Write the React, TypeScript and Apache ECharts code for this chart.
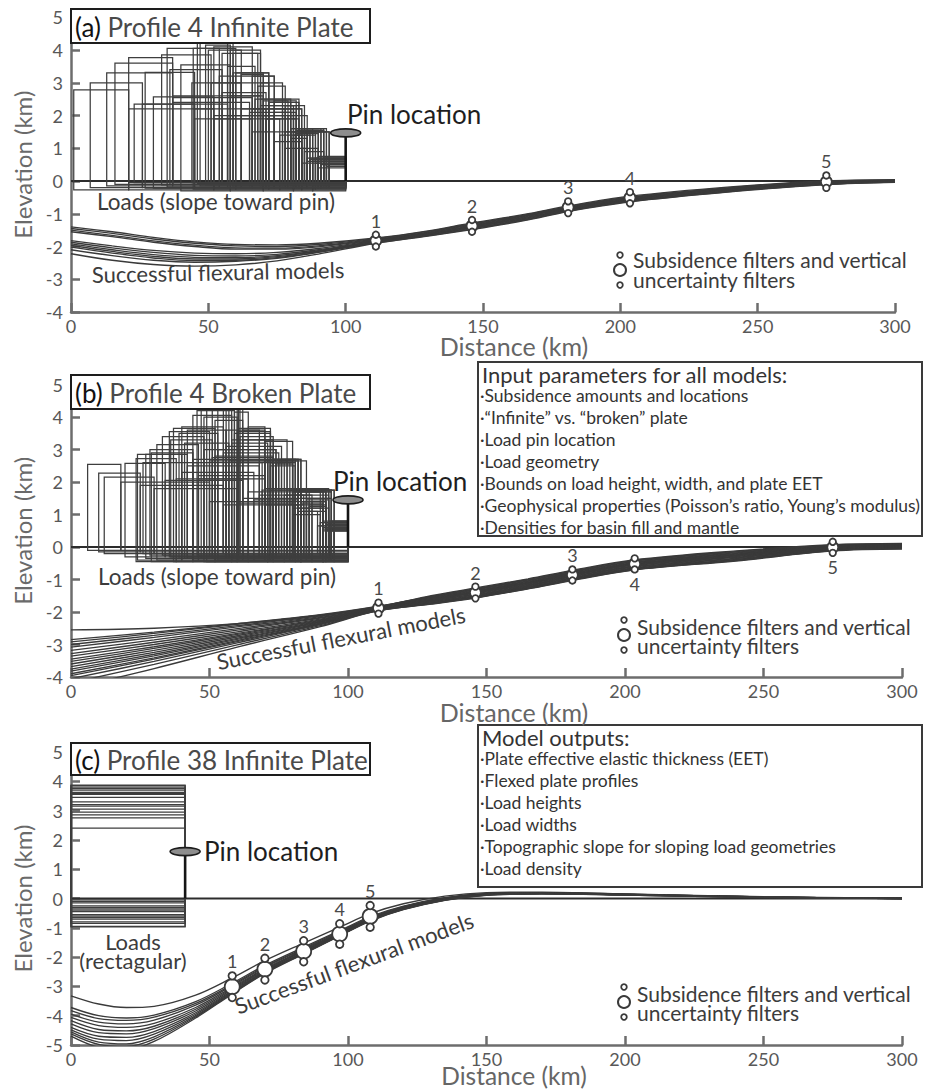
import React, { useEffect, useRef } from "react";
import * as echarts from "echarts";

const FONT = "Lato, 'Open Sans', 'Noto Sans', sans-serif";
const INK = "#3a3a3a";
const AXIS_GRAY = "#6d6d6d";
const LABEL_GRAY = "#585858";

const X_MIN = 0;
const X_MAX = 300;
const filterIds = ["1", "2", "3", "4", "5"];

// ---------- (a) Profile 4, infinite plate ----------
const curveXA = [0, 15, 30, 45, 60, 75, 90, 111, 130, 146, 165, 181, 203, 240, 275, 300];
const curvesA = [
  [-1.40, -1.55, -1.72, -1.86, -1.94, -1.95, -1.90, -1.74, -1.52, -1.28, -1.02, -0.76, -0.47, -0.18, 0.00, 0.04],
  [-1.45, -1.60, -1.77, -1.90, -1.98, -2.00, -1.94, -1.76, -1.54, -1.30, -1.04, -0.78, -0.49, -0.20, -0.01, 0.03],
  [-1.50, -1.66, -1.83, -1.96, -2.04, -2.05, -1.98, -1.78, -1.56, -1.32, -1.06, -0.80, -0.51, -0.22, -0.03, 0.02],
  [-1.55, -1.70, -1.87, -2.00, -2.08, -2.08, -2.01, -1.80, -1.58, -1.34, -1.08, -0.82, -0.53, -0.24, -0.04, 0.01],
  [-1.82, -1.98, -2.12, -2.20, -2.22, -2.18, -2.06, -1.81, -1.59, -1.36, -1.10, -0.84, -0.55, -0.25, -0.05, 0.00],
  [-1.87, -2.04, -2.18, -2.27, -2.29, -2.24, -2.10, -1.83, -1.61, -1.38, -1.12, -0.86, -0.57, -0.27, -0.06, -0.01],
  [-1.92, -2.10, -2.25, -2.33, -2.34, -2.28, -2.13, -1.84, -1.62, -1.40, -1.14, -0.87, -0.58, -0.28, -0.07, -0.01],
  [-1.97, -2.15, -2.30, -2.38, -2.38, -2.31, -2.15, -1.86, -1.64, -1.42, -1.15, -0.89, -0.60, -0.30, -0.08, -0.02],
  [-2.02, -2.20, -2.35, -2.43, -2.42, -2.34, -2.17, -1.87, -1.65, -1.44, -1.17, -0.90, -0.61, -0.31, -0.09, -0.03],
  [-2.10, -2.28, -2.42, -2.48, -2.45, -2.36, -2.18, -1.89, -1.67, -1.46, -1.19, -0.92, -0.63, -0.32, -0.10, -0.03],
  [-2.22, -2.42, -2.55, -2.60, -2.56, -2.44, -2.23, -1.90, -1.68, -1.48, -1.21, -0.93, -0.64, -0.33, -0.11, -0.04],
];
const filterXA = [111, 146, 181, 203.5, 275];
const filterYA = [-1.82, -1.37, -0.80, -0.51, -0.02];
const filterErrA = [0.18, 0.18, 0.18, 0.17, 0.19];
const labelBelowA = [false, false, false, false, false];
const pinA = [100, 1.47];
// each load: [base, x0, h0, x1, h1, ...] — steps run to the next x, the last one to the pin
const loadsA = [
  [-0.27, 1, 2.78, 21, 2.2, 52, 1.9, 76, 1.4, 84, 0.55],
  [-0.2, 7, 3.0, 26, 2.35, 57, 2.0, 78, 1.5, 86, 0.6],
  [-0.15, 13, 3.3, 37, 2.4, 65, 2.1, 80, 1.6, 88, 0.65],
  [-0.1, 16, 3.6, 37, 2.55, 66, 2.2, 81, 1.5, 89, 0.7],
  [-0.05, 21, 3.77, 37, 2.6, 69, 2.3, 82, 1.45, 90, 0.75],
  [-0.22, 27, 3.32, 45, 2.2, 71, 1.9, 83, 1.6, 91, 0.5],
  [-0.12, 33, 3.85, 51, 3.0, 72, 2.4, 80, 1.5, 87, 0.7],
  [-0.18, 35, 4.05, 54, 3.2, 74, 2.1, 82, 1.55, 90, 0.6],
  [-0.08, 46, 4.5, 57, 3.5, 67, 2.5, 83, 1.5, 91, 0.65],
  [-0.25, 44.5, 4.05, 60, 3.3, 72, 2.3, 81, 1.4, 89, 0.55],
  [-0.15, 47, 4.6, 59, 3.3, 70, 2.2, 84, 1.55, 92, 0.6],
  [-0.1, 50, 4.0, 62, 3.3, 72, 2.4, 83, 1.5, 93, 0.7],
  [-0.2, 52, 4.1, 66, 3.2, 74, 2.45, 82, 1.6, 93, 0.45],
  [-0.05, 55, 3.9, 68, 2.9, 78, 2.3, 85, 1.5, 94, 0.6],
  [-0.12, 49, 4.15, 58, 4.0, 69, 2.5, 80, 1.6, 92, 0.5],
  [-0.22, 30, 2.57, 52, 2.0, 74, 1.2, 84, 1.0, 90, 0.4],
  [-0.05, 23, 2.35, 45, 1.9, 66, 1.5, 80, 1.3, 86, 0.7],
  [-0.3, 40, 3.55, 58, 2.6, 70, 2.0, 81, 1.5, 88, 0.6],
  [-0.15, 59, 3.9, 69, 3.0, 77, 2.2, 84, 1.55, 92, 0.5],
  [-0.1, 36, 3.4, 55, 2.7, 71, 1.9, 82, 1.4, 87, 0.65],
  [-0.2, 62, 3.25, 70, 2.45, 79, 2.0, 86, 1.5, 94, 0.55],
  [-0.05, 44, 3.0, 62, 2.2, 78, 1.0, 85, 0.9, 92, 0.7],
];

// ---------- (b) Profile 4, broken plate ----------
const curveXB = [0, 30, 60, 90, 111, 130, 146, 165, 181, 203, 240, 275, 300];
const curvesB = [
  [-2.55, -2.50, -2.36, -2.10, -1.84, -1.50, -1.26, -0.98, -0.72, -0.40, -0.12, 0.07, 0.11],
  [-2.85, -2.62, -2.36, -2.08, -1.82, -1.52, -1.28, -1.00, -0.74, -0.42, -0.14, 0.06, 0.10],
  [-2.92, -2.66, -2.38, -2.10, -1.83, -1.53, -1.30, -1.02, -0.76, -0.44, -0.16, 0.05, 0.09],
  [-3.00, -2.72, -2.42, -2.12, -1.85, -1.55, -1.32, -1.04, -0.78, -0.46, -0.18, 0.03, 0.08],
  [-3.08, -2.78, -2.46, -2.14, -1.86, -1.56, -1.34, -1.06, -0.80, -0.48, -0.20, 0.02, 0.07],
  [-3.18, -2.86, -2.51, -2.17, -1.87, -1.58, -1.36, -1.08, -0.82, -0.50, -0.22, 0.01, 0.06],
  [-3.28, -2.93, -2.56, -2.19, -1.88, -1.59, -1.38, -1.10, -0.84, -0.52, -0.24, 0.00, 0.05],
  [-3.36, -3.00, -2.61, -2.22, -1.89, -1.61, -1.39, -1.11, -0.85, -0.53, -0.25, -0.01, 0.04],
  [-3.45, -3.07, -2.66, -2.24, -1.90, -1.62, -1.40, -1.12, -0.86, -0.54, -0.26, -0.02, 0.03],
  [-3.52, -3.12, -2.69, -2.26, -1.90, -1.63, -1.42, -1.14, -0.88, -0.56, -0.28, -0.03, 0.02],
  [-3.60, -3.18, -2.73, -2.28, -1.91, -1.65, -1.44, -1.16, -0.90, -0.58, -0.30, -0.04, 0.02],
  [-3.68, -3.24, -2.77, -2.30, -1.92, -1.66, -1.46, -1.18, -0.92, -0.60, -0.32, -0.05, 0.01],
  [-3.76, -3.30, -2.81, -2.32, -1.92, -1.68, -1.48, -1.20, -0.94, -0.62, -0.34, -0.06, 0.00],
  [-3.82, -3.35, -2.84, -2.34, -1.93, -1.69, -1.50, -1.22, -0.96, -0.64, -0.36, -0.07, -0.01],
  [-3.90, -3.41, -2.88, -2.36, -1.94, -1.71, -1.52, -1.24, -0.98, -0.66, -0.38, -0.08, -0.02],
  [-3.96, -3.45, -2.91, -2.37, -1.94, -1.72, -1.53, -1.25, -0.99, -0.67, -0.39, -0.09, -0.03],
  [-4.05, -3.52, -2.95, -2.39, -1.95, -1.74, -1.55, -1.27, -1.01, -0.69, -0.41, -0.10, -0.04],
  [-4.18, -3.61, -3.01, -2.42, -1.96, -1.75, -1.56, -1.28, -1.02, -0.70, -0.42, -0.11, -0.05],
  [-4.35, -3.74, -3.08, -2.45, -1.96, -1.76, -1.57, -1.29, -1.03, -0.71, -0.43, -0.12, -0.06],
];
const filterXB = [111, 146, 181, 203.5, 275];
const filterYB = [-1.88, -1.40, -0.86, -0.52, -0.01];
const filterErrB = [0.17, 0.18, 0.17, 0.17, 0.17];
const labelBelowB = [false, false, false, true, true];
const pinB = [100, 1.45];
const loadsB = [
  [-0.1, 6, 2.54, 18, 2.0, 50, 1.4, 80, 1.2, 91, 0.55],
  [-0.15, 10, 2.27, 25, 1.9, 55, 1.3, 82, 1.1, 92, 0.6],
  [-0.2, 12, 2.15, 30, 1.8, 60, 1.35, 80, 1.0, 90, 0.65],
  [-0.3, 19.5, 2.57, 34, 2.05, 62, 1.5, 81, 1.3, 92, 0.7],
  [-0.45, 23.5, 2.72, 38, 2.1, 64, 1.7, 83, 1.35, 91, 0.75],
  [-0.4, 24, 2.85, 40, 2.3, 66, 1.45, 82, 1.2, 93, 0.6],
  [-0.35, 27, 2.85, 42, 2.5, 68, 1.6, 84, 1.4, 92, 0.55],
  [-0.25, 28.5, 3.0, 44, 2.6, 69, 1.75, 83, 1.5, 94, 0.8],
  [-0.4, 31, 3.15, 46, 2.2, 70, 1.8, 85, 1.45, 93, 0.7],
  [-0.3, 35.5, 3.55, 50, 2.65, 72, 1.75, 86, 1.25, 92, 0.6],
  [-0.45, 37, 3.65, 52, 2.8, 73, 2.6, 81, 1.7, 91, 0.5],
  [-0.35, 39, 3.5, 53, 3.0, 74, 2.55, 80, 1.75, 93, 0.65],
  [-0.2, 40, 3.7, 55, 2.9, 75, 2.65, 81, 1.8, 92, 0.75],
  [-0.3, 42, 3.6, 56, 3.1, 76, 2.7, 82, 1.7, 94, 0.6],
  [-0.4, 44, 4.05, 58, 3.3, 73, 2.7, 81, 1.75, 93, 0.55],
  [-0.25, 45.5, 4.2, 59, 3.5, 72, 2.6, 80, 1.8, 92, 0.7],
  [-0.35, 47, 4.5, 56, 3.6, 70, 2.65, 82, 1.7, 94, 0.5],
  [-0.45, 49, 4.6, 58, 3.2, 71, 2.7, 83, 1.75, 95, 0.65],
  [-0.3, 51, 4.4, 60, 3.55, 72, 2.5, 81, 1.6, 93, 0.8],
  [-0.4, 53, 4.7, 60.5, 3.65, 72, 2.65, 80, 1.75, 94, 0.6],
  [-0.2, 55, 4.5, 61, 3.4, 73, 2.7, 82, 1.75, 95, 0.55],
  [-0.35, 57, 4.8, 62, 3.6, 68, 3.3, 78, 1.8, 93, 0.7],
  [-0.3, 36, 3.3, 51, 2.75, 73, 2.6, 80, 1.7, 90, 0.75],
  [-0.45, 29, 2.9, 44, 2.7, 71, 2.7, 83, 1.75, 91, 0.6],
  [-0.25, 33, 3.4, 48, 3.0, 74, 2.65, 85, 1.7, 92, 0.5],
  [-0.35, 41, 3.2, 57, 2.65, 78, 1.4, 86, 1.3, 91, 0.8],
  [-0.2, 26, 2.6, 46, 2.1, 70, 1.3, 84, 1.1, 89, 0.65],
  [-0.4, 52, 3.9, 62, 3.3, 72, 2.6, 79, 1.75, 94, 0.7],
  [-0.3, 59, 4.15, 64, 3.7, 70, 3.25, 80, 1.5, 93, 0.6],
  [-0.45, 48, 4.0, 60, 2.6, 77, 1.6, 87, 1.4, 92, 0.75],
];

// ---------- (c) Profile 38, infinite plate ----------
const curveXC = [0, 10, 20, 30, 45, 58, 70, 84, 97, 108, 120, 135, 150, 170, 200, 250, 300];
const curvesC = [
  [-3.32, -3.60, -3.72, -3.68, -3.30, -2.72, -2.12, -1.52, -0.98, -0.52, -0.18, 0.08, 0.20, 0.22, 0.16, 0.06, 0.01],
  [-3.72, -4.00, -4.08, -3.98, -3.52, -2.90, -2.28, -1.66, -1.10, -0.62, -0.26, 0.03, 0.17, 0.20, 0.15, 0.05, 0.01],
  [-3.83, -4.10, -4.16, -4.05, -3.58, -2.95, -2.32, -1.70, -1.13, -0.65, -0.28, 0.02, 0.16, 0.19, 0.15, 0.05, 0.01],
  [-3.95, -4.22, -4.28, -4.15, -3.64, -2.99, -2.35, -1.73, -1.16, -0.67, -0.30, 0.01, 0.15, 0.19, 0.14, 0.05, 0.01],
  [-4.06, -4.34, -4.40, -4.26, -3.72, -3.04, -2.39, -1.76, -1.18, -0.69, -0.31, 0.00, 0.15, 0.18, 0.14, 0.05, 0.00],
  [-4.17, -4.47, -4.52, -4.36, -3.78, -3.08, -2.42, -1.78, -1.20, -0.70, -0.32, -0.01, 0.14, 0.18, 0.14, 0.05, 0.00],
  [-4.28, -4.58, -4.62, -4.44, -3.84, -3.12, -2.45, -1.80, -1.22, -0.72, -0.33, -0.02, 0.14, 0.18, 0.13, 0.04, 0.00],
  [-4.40, -4.70, -4.74, -4.54, -3.90, -3.16, -2.48, -1.83, -1.24, -0.73, -0.34, -0.03, 0.13, 0.17, 0.13, 0.04, 0.00],
  [-4.48, -4.80, -4.85, -4.63, -3.95, -3.19, -2.50, -1.85, -1.25, -0.74, -0.35, -0.04, 0.13, 0.17, 0.13, 0.04, 0.00],
  [-4.55, -4.90, -4.96, -4.72, -4.00, -3.22, -2.52, -1.86, -1.26, -0.75, -0.36, -0.05, 0.12, 0.17, 0.12, 0.04, 0.00],
  [-4.62, -4.98, -5.05, -4.80, -4.04, -3.25, -2.54, -1.88, -1.27, -0.76, -0.37, -0.05, 0.12, 0.16, 0.12, 0.04, 0.00],
  [-4.70, -5.08, -5.15, -4.88, -4.08, -3.27, -2.56, -1.89, -1.28, -0.77, -0.38, -0.06, 0.11, 0.16, 0.12, 0.03, 0.00],
];
const filterXC = [58.2, 70, 84, 97, 108];
const filterYC = [-3.01, -2.41, -1.80, -1.21, -0.61];
const filterErrC = [0.37, 0.37, 0.36, 0.35, 0.37];
const labelBelowC = [false, false, false, false, false];
const pinC = [41.2, 1.6];
const loadTopsC = [3.87, 3.85, 3.8, 3.75, 3.7, 3.62, 3.58, 3.55, 3.45, 3.3, 3.2, 3.15, 3.05, 2.95, 2.85, 2.75, 2.4];
const loadBasesC = [-0.05, -0.1, -0.15, -0.25, -0.3, -0.4, -0.45, -0.55, -0.6, -0.7, -0.8, -0.85, -0.95, -0.55, -0.35, -0.65, -0.97];

// ---------- text ----------
const titles = [
  ["(a)", "Profile 4 Infinite Plate"],
  ["(b)", "Profile 4 Broken Plate"],
  ["(c)", "Profile 38 Infinite Plate"],
];
const inputLines = [
  "·Subsidence amounts and locations",
  "·“Infinite” vs. “broken” plate",
  "·Load pin location",
  "·Load geometry",
  "·Bounds on load height, width, and plate EET",
  "·Geophysical properties (Poisson’s ratio, Young’s modulus)",
  "·Densities for basin fill and mantle",
];
const outputLines = [
  "·Plate effective elastic thickness (EET)",
  "·Flexed plate profiles",
  "·Load heights",
  "·Load widths",
  "·Topographic slope for sloping load geometries",
  "·Load density",
];

function stairsToRects(loads: number[][], pinX: number): number[][] {
  const out: number[][] = [];
  for (const row of loads) {
    const base = row[0];
    const steps: number[][] = [];
    for (let i = 1; i < row.length; i += 2) steps.push([row[i], row[i + 1]]);
    steps.forEach((s, i) => {
      const xEnd = i < steps.length - 1 ? steps[i + 1][0] : pinX;
      out.push([s[0], xEnd, s[1], base]);
    });
  }
  return out;
}

function panelSeries(
  p: number,
  curveX: number[],
  curves: number[][],
  fx: number[],
  fy: number[],
  ferr: number[],
  below: boolean[],
  rects: number[][],
  pin: number[],
  bigSize: number,
  smallSize: number
): any[] {
  const axes = { xAxisIndex: p, yAxisIndex: p };
  const list: any[] = [];
  list.push({
    ...axes,
    type: "line",
    data: [
      [X_MIN, 0],
      [X_MAX, 0],
    ],
    symbol: "none",
    silent: true,
    z: 1,
    lineStyle: { color: "#2c2c2c", width: 1.8 },
  });
  list.push({
    ...axes,
    type: "custom",
    silent: true,
    z: 2,
    data: rects,
    encode: { x: [0, 1], y: [2, 3] },
    renderItem: (_params: any, api: any) => {
      const a = api.coord([api.value(0), api.value(2)]);
      const b = api.coord([api.value(1), api.value(3)]);
      return {
        type: "rect",
        shape: { x: a[0], y: a[1], width: b[0] - a[0], height: b[1] - a[1] },
        style: { fill: "none", stroke: "#3e3e3e", lineWidth: 1.25 },
      };
    },
  });
  curves.forEach((c) => {
    list.push({
      ...axes,
      type: "line",
      data: curveX.map((x, j) => [x, c[j]]),
      smooth: 0.35,
      symbol: "none",
      silent: true,
      z: 3,
      lineStyle: { color: INK, width: 1.35 },
    });
  });
  list.push({
    ...axes,
    type: "custom",
    silent: true,
    z: 4,
    data: [pin],
    encode: { x: 0, y: 1 },
    renderItem: (_params: any, api: any) => {
      const base = api.coord([api.value(0), 0]);
      const top = api.coord([api.value(0), api.value(1)]);
      return {
        type: "group",
        children: [
          {
            type: "line",
            shape: { x1: base[0], y1: base[1], x2: top[0], y2: top[1] },
            style: { stroke: "#151515", lineWidth: 2.6 },
          },
          {
            type: "ellipse",
            shape: { cx: top[0], cy: top[1], rx: 15, ry: 4 },
            style: { fill: "#8d8d8d", stroke: "#1c1c1c", lineWidth: 1.6 },
          },
        ],
      };
    },
  });
  const circleStyle = { color: "#fff", borderColor: INK, borderWidth: 1.8, opacity: 1 };
  const numLabel = {
    show: false,
    color: "#4a4a4a",
    fontSize: 18,
    fontFamily: FONT,
    distance: 1,
    formatter: (prm: any) => filterIds[prm.dataIndex],
  };
  list.push({
    ...axes,
    type: "scatter",
    silent: true,
    z: 5,
    symbol: "circle",
    symbolSize: bigSize,
    itemStyle: circleStyle,
    data: fx.map((x, i) => [x, fy[i]]),
  });
  list.push({
    ...axes,
    type: "scatter",
    silent: true,
    z: 6,
    symbol: "circle",
    symbolSize: smallSize,
    itemStyle: circleStyle,
    label: { ...numLabel, position: "top" },
    data: fx.map((x, i) => ({ value: [x, fy[i] + ferr[i]], label: { show: !below[i] } })),
  });
  list.push({
    ...axes,
    type: "scatter",
    silent: true,
    z: 6,
    symbol: "circle",
    symbolSize: smallSize,
    itemStyle: circleStyle,
    label: { ...numLabel, position: "bottom" },
    data: fx.map((x, i) => ({ value: [x, fy[i] - ferr[i]], label: { show: below[i] } })),
  });
  return list;
}

function txt(x: number, y: number, text: string, size: number, extra: any = {}, fill = "#3c3c3c"): any {
  const { rotation, ...style } = extra;
  return {
    type: "text",
    x,
    y,
    z: 120,
    rotation: rotation || 0,
    style: {
      text,
      fill,
      fontSize: size,
      fontFamily: FONT,
      align: "left",
      verticalAlign: "middle",
      ...style,
    },
  };
}

function titleBox(y: number, h: number, t: string[]): any[] {
  return [
    {
      type: "rect",
      z: 110,
      shape: { x: 71, y, width: 299, height: h },
      style: { fill: "#fff", stroke: "#1d1d1d", lineWidth: 2 },
    },
    {
      type: "text",
      z: 120,
      x: 75,
      y: y + h / 2 + 1,
      style: {
        text: `{t|${t[0]}} {r|${t[1]}}`,
        verticalAlign: "middle",
        align: "left",
        fontSize: 26,
        fontFamily: FONT,
        fill: "#4a4a4a",
        rich: {
          t: { fill: "#111", fontSize: 26, fontFamily: FONT },
          r: { fill: "#4a4a4a", fontSize: 26, fontFamily: FONT },
        },
      },
    },
  ];
}

function legend(cx: number, cy: number, tx: number, ty1: number, ty2: number): any[] {
  const st = { fill: "#fff", stroke: INK, lineWidth: 1.8 };
  return [
    { type: "circle", z: 120, shape: { cx, cy: cy - 15, r: 2.8 }, style: st },
    { type: "circle", z: 120, shape: { cx, cy, r: 6 }, style: { ...st, lineWidth: 2 } },
    { type: "circle", z: 120, shape: { cx, cy: cy + 15, r: 2.8 }, style: st },
    txt(tx, ty1, "Subsidence filters and vertical", 21, { lineHeight: 19 }),
    txt(tx, ty2, "uncertainty filters", 21, { lineHeight: 19 }),
  ];
}

function infoBox(y: number, h: number, head: string, lines: string[]): any[] {
  const out: any[] = [
    {
      type: "rect",
      z: 110,
      shape: { x: 478, y, width: 444, height: h },
      style: { fill: "#fff", stroke: "#3a3a3a", lineWidth: 2 },
    },
    txt(482, y + 12, head, 22, {}, "#333"),
  ];
  lines.forEach((l, i) => out.push(txt(480, y + 33 + i * 22, l, 17.5, {}, "#333")));
  return out;
}

export default function App() {
  const ref = useRef<HTMLDivElement>(null);

  useEffect(() => {
    document.body.style.margin = "0";
    if (!ref.current) return;
    const chart = echarts.init(ref.current, undefined, { renderer: "svg" });

    const grids = [
      { left: 71, right: 35, top: 17.3, height: 294.7 },
      { left: 71, right: 28, top: 384.5, height: 292.5 },
      { left: 71, right: 28, top: 752, height: 293 },
    ];
    const yRanges = [
      [-4, 5],
      [-4, 5],
      [-5, 5],
    ];
    const axisLine = { show: true, onZero: false, lineStyle: { color: AXIS_GRAY, width: 2.5 } };
    const axisTick = { show: true, inside: true, length: 9, lineStyle: { color: AXIS_GRAY, width: 2.5 } };

    const xAxis = grids.map((_g, i) => ({
      type: "value",
      gridIndex: i,
      min: X_MIN,
      max: X_MAX,
      interval: 50,
      axisLine,
      axisTick,
      splitLine: { show: false },
      axisLabel: { color: LABEL_GRAY, fontSize: 18, fontFamily: FONT, margin: 5 },
    }));
    const yAxis = grids.map((_g, i) => ({
      type: "value",
      gridIndex: i,
      min: yRanges[i][0],
      max: yRanges[i][1],
      interval: 1,
      axisLine,
      axisTick,
      splitLine: { show: false },
      axisLabel: { color: LABEL_GRAY, fontSize: 18, fontFamily: FONT, margin: 8 },
      name: "Elevation (km)",
      nameLocation: "middle",
      nameGap: 30,
      nameTextStyle: { color: "#6a6a6a", fontSize: 24, fontFamily: FONT },
    }));

    const rectsC = loadTopsC.map((t, i) => [0, pinC[0], t, loadBasesC[i]]);

    const series = [
      ...panelSeries(0, curveXA, curvesA, filterXA, filterYA, filterErrA, labelBelowA, stairsToRects(loadsA, pinA[0]), pinA, 11, 6.5),
      ...panelSeries(1, curveXB, curvesB, filterXB, filterYB, filterErrB, labelBelowB, stairsToRects(loadsB, pinB[0]), pinB, 11, 6.5),
      ...panelSeries(2, curveXC, curvesC, filterXC, filterYC, filterErrC, labelBelowC, rectsC, pinC, 15, 7.5),
    ];

    const graphic: any[] = [
      ...titleBox(9, 34, titles[0]),
      ...titleBox(375, 34, titles[1]),
      ...titleBox(743, 32, titles[2]),
      // pin labels
      txt(347, 114, "Pin location", 26, {}, "#1e1e1e"),
      txt(333, 481, "Pin location", 26, {}, "#1e1e1e"),
      txt(204, 851, "Pin location", 26, {}, "#1e1e1e"),
      // load labels
      txt(97, 201, "Loads (slope toward pin)", 22.5),
      txt(98, 576, "Loads (slope toward pin)", 22.5),
      txt(133, 951, "Loads\n(rectagular)", 22, { align: "center", lineHeight: 19 }),
      // model labels
      txt(218, 272, "Successful flexural models", 22, { align: "center", rotation: 0.02 }),
      txt(341, 638, "Successful flexural models", 22, { align: "center", rotation: 0.19 }),
      txt(354, 963, "Successful flexural models", 22, { align: "center", rotation: 0.354 }),
      // distance axis names
      txt(514, 346, "Distance (km)", 25, { align: "center" }, "#666"),
      txt(514, 712, "Distance (km)", 25, { align: "center" }, "#666"),
      txt(514, 1075, "Distance (km)", 24.5, { align: "center" }, "#666"),
      ...legend(620, 270, 633, 259, 279),
      ...legend(624, 635, 637, 626, 645),
      ...legend(624, 1002, 637, 993, 1012),
      ...infoBox(362, 174, "Input parameters for all models:", inputLines),
      ...infoBox(725, 162, "Model outputs:", outputLines),
    ];

    chart.setOption({
      animation: false,
      backgroundColor: "#fff",
      textStyle: { fontFamily: FONT },
      grid: grids,
      xAxis,
      yAxis,
      series,
      graphic,
    });

    return () => chart.dispose();
  }, []);

  return <div ref={ref} style={{ width: 930, height: 1090 }} />;
}
